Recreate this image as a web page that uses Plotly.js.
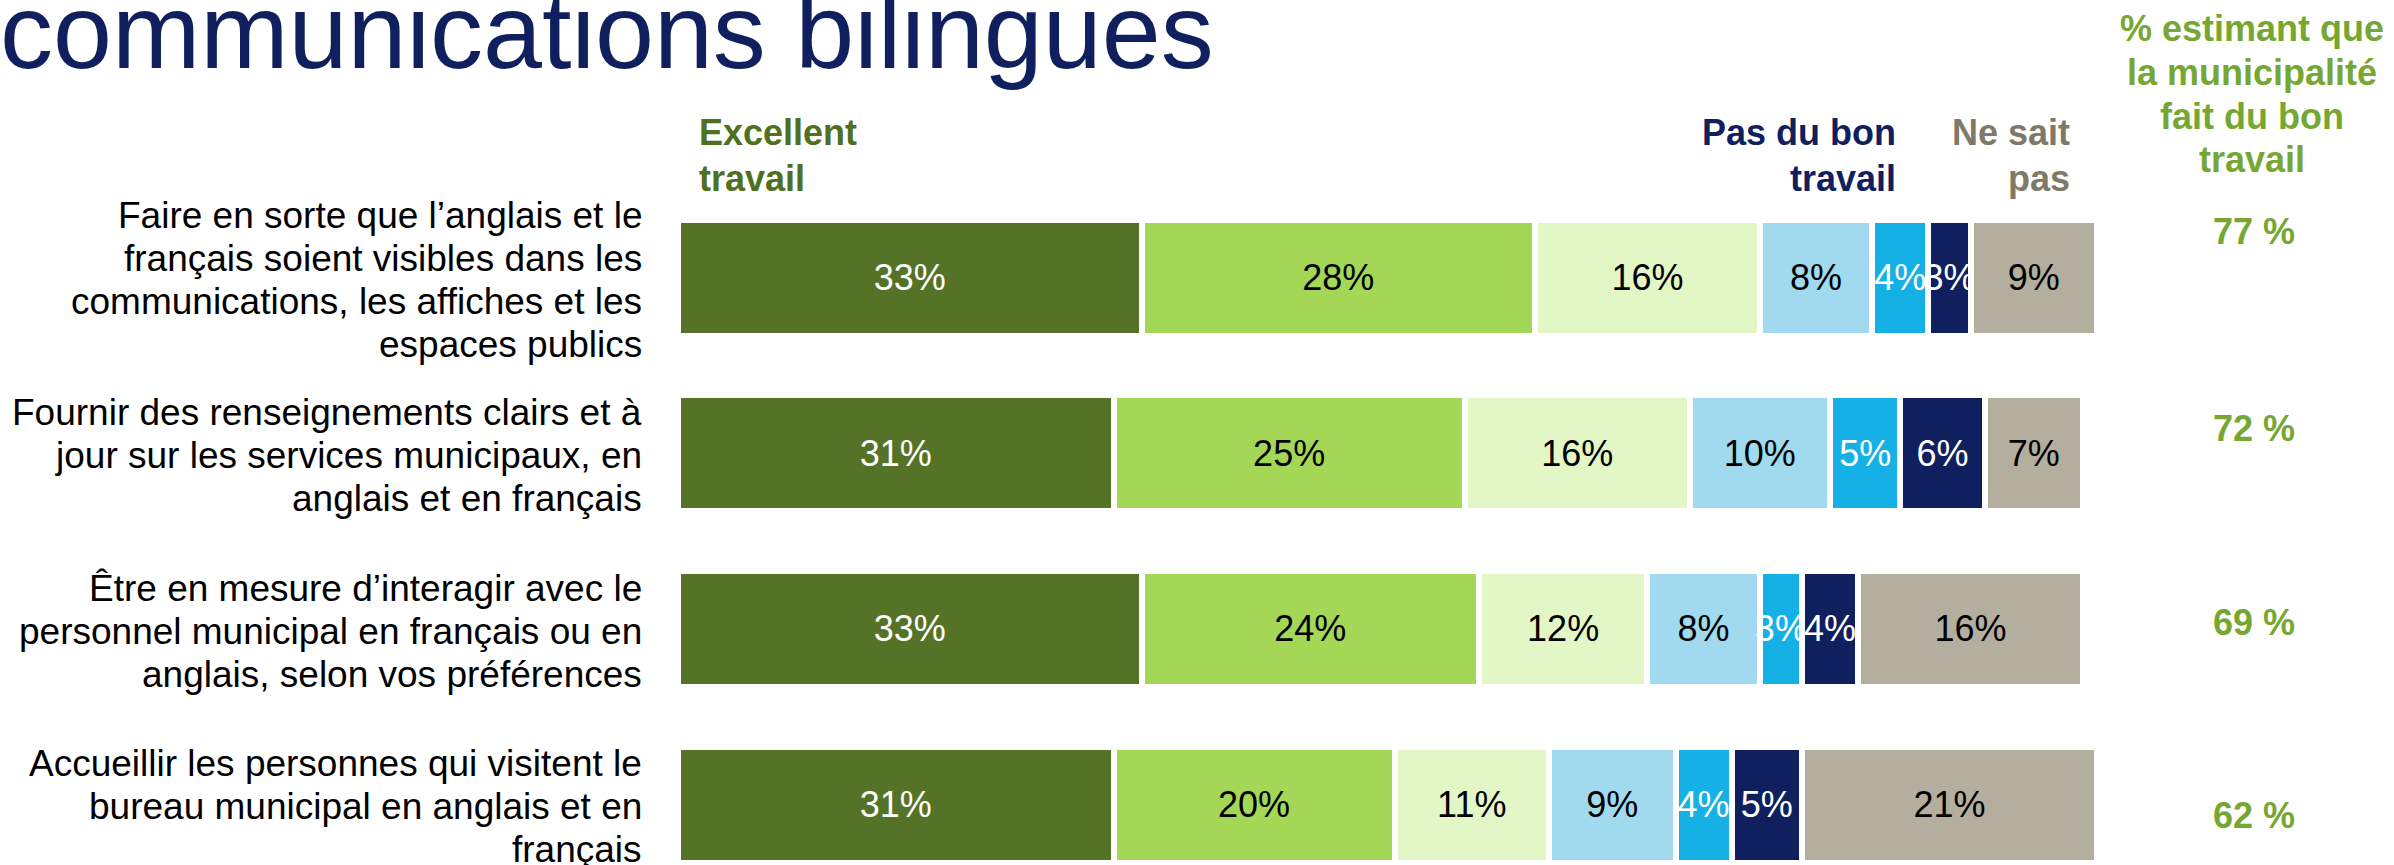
<!DOCTYPE html>
<html>
<head>
<meta charset="utf-8">
<script src="https://cdn.plot.ly/plotly-3.0.1.min.js"></script>
<style>
  html, body { margin: 0; padding: 0; background: #ffffff; }
  #chart { width: 2394px; height: 865px; }
</style>
</head>
<body>
<div id="chart"></div>
<script>
// ---------- DATA ----------
const categories = [
  "Faire en sorte que l’anglais et le<br>français soient visibles dans les<br>communications, les affiches et les<br>espaces publics",
  "Fournir des renseignements clairs et à<br>jour sur les services municipaux, en<br>anglais et en français",
  "Être en mesure d’interagir avec le<br>personnel municipal en français ou en<br>anglais, selon vos préférences",
  "Accueillir les personnes qui visitent le<br>bureau municipal en anglais et en<br>français"
];
const seriesNames = ["Excellent travail", "2", "3", "4", "5", "Pas du bon travail", "Ne sait pas"];
const s1 = [33, 31, 33, 31];
const s2 = [28, 25, 24, 20];
const s3 = [16, 16, 12, 11];
const s4 = [8, 10, 8, 9];
const s5 = [4, 5, 3, 4];
const s6 = [3, 6, 4, 5];
const s7 = [9, 7, 16, 21];
const goodWork = [77, 72, 69, 62];

const titleText = "communications bilingues";
const headerExcellent = "Excellent<br>travail";
const headerPasBon = "Pas du bon<br>travail";
const headerNeSait = "Ne sait<br>pas";
const headerGood = "% estimant que<br>la municipalité<br>fait du bon<br>travail";

// ---------- STYLE ----------
const FONT = "Liberation Sans, Arial, Helvetica, sans-serif";
const barColors = ["#557327", "#A5D757", "#E2F6C6", "#A1DAEE", "#15B0E5", "#101F5E", "#B3AE9D"];
const textColors = ["#ffffff", "#000000", "#000000", "#000000", "#ffffff", "#ffffff", "#000000"];
const allSeries = [s1, s2, s3, s4, s5, s6, s7];

const traces = allSeries.map((vals, i) => ({
  type: "bar",
  orientation: "h",
  name: seriesNames[i],
  y: categories,
  x: vals,
  text: vals.map(v => v + "%"),
  textposition: "inside",
  insidetextanchor: "middle",
  textangle: 0,
  constraintext: "none",
  textfont: { family: FONT, size: 36, color: textColors[i] },
  marker: { color: barColors[i], line: { color: "#ffffff", width: 6 } },
  hoverinfo: "none",
  showlegend: false
}));

// plot area in pixels: x 678..2097, y 190..865
const X0 = 678, X1 = 2097, Y0 = 190, Y1 = 865;
const px = X => (X - X0) / (X1 - X0);
const py = Y => (Y1 - Y) / (Y1 - Y0);

const annotations = [];
function addLines(text, xPix, xanchor, firstCenterPix, spacing, font) {
  text.split("<br>").forEach((line, k) => {
    annotations.push({
      text: line, xref: "paper", yref: "paper",
      x: px(xPix), y: py(firstCenterPix + k * spacing),
      xanchor: xanchor, yanchor: "middle", showarrow: false, font: font
    });
  });
}
const bold = c => ({ family: FONT, size: 36, color: c, weight: "bold" });

addLines(headerExcellent, 697, "left", 133, 45, bold("#4F7020"));
addLines(headerPasBon, 1898, "right", 133, 45, bold("#101F5E"));
addLines(headerNeSait, 2072, "right", 133, 45, bold("#7F7A68"));
addLines(headerGood, 2252, "center", 28, 44, bold("#77A733"));

const goodY = [232, 428, 622, 815];
goodWork.forEach((v, i) => {
  annotations.push({
    text: v + " %", xref: "paper", yref: "paper",
    x: px(2254), y: py(goodY[i]), xanchor: "center", yanchor: "middle",
    showarrow: false, font: bold("#77A733")
  });
});

// category labels (one annotation per line, tied to each category row)
const LABEL_SPACING = 43;
categories.forEach((cat, i) => {
  const lines = cat.split("<br>");
  const n = lines.length;
  lines.forEach((line, k) => {
    annotations.push({
      text: line, xref: "paper", yref: "y",
      x: px(644), y: i, yshift: ((n - 1) / 2 - k) * LABEL_SPACING - 2,
      xanchor: "right", yanchor: "middle", showarrow: false,
      font: { family: FONT, size: 37, color: "#000000" }
    });
  });
});

const layout = {
  width: 2394,
  height: 865,
  margin: { l: X0, r: 2394 - X1, t: Y0, b: 0, pad: 0 },
  paper_bgcolor: "#ffffff",
  plot_bgcolor: "#ffffff",
  barmode: "stack",
  bargap: 0.34,
  title: {
    text: titleText,
    x: 0, xref: "container", xanchor: "left",
    y: 1 - 31 / 865, yref: "container", yanchor: "middle",
    font: { family: FONT, size: 106, color: "#101F5E" }
  },
  xaxis: {
    range: [0, 101],
    visible: false,
    fixedrange: true
  },
  yaxis: {
    type: "category",
    categoryarray: categories,
    range: [3.344, -0.5],
    showgrid: false,
    zeroline: false,
    showline: false,
    ticks: "",
    showticklabels: false,
    automargin: false,
    fixedrange: true
  },
  annotations: annotations,
  showlegend: false
};

Plotly.newPlot("chart", traces, layout, { displayModeBar: false, staticPlot: true });
</script>
</body>
</html>
